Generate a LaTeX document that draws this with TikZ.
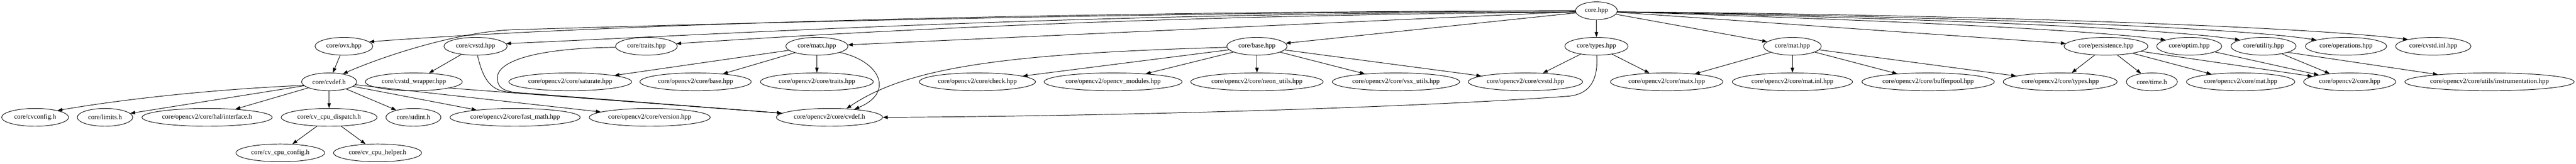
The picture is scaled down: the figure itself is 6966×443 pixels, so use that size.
\documentclass[tikz,border=0pt]{standalone}
\usepackage{fontspec}
\setmainfont{Liberation Serif}
\usetikzlibrary{shapes.geometric,arrows.meta}
\begin{document}
\begin{tikzpicture}[x=0.75pt,y=-0.75pt,
  nd/.style={ellipse,draw,line width=1pt,inner xsep=-4pt,inner ysep=0pt,minimum height=36pt,font=\fontsize{13.6pt}{16pt}\selectfont},
  wd/.style={minimum width=#1*0.75pt},
  conn/.style={draw,line width=1pt,-{Triangle[length=10pt,width=7pt]}}]
\useasboundingbox (0,0) rectangle (6966,443);
% row 1
\node[nd,wd=113] (core) at (4317,29) {core.hpp};
% row 2
\node[nd,wd=156] (ovx) at (930,125) {core/ovx.hpp};
\node[nd,wd=171] (cvstd) at (1286,125) {core/cvstd.hpp};
\node[nd,wd=167] (traits) at (1748,125) {core/traits.hpp};
\node[nd,wd=168] (matx) at (2209,125) {core/matx.hpp};
\node[nd,wd=163] (base) at (3399,125) {core/base.hpp};
\node[nd,wd=171] (types) at (4317,125) {core/types.hpp};
\node[nd,wd=156] (mat) at (4847,125) {core/mat.hpp};
\node[nd,wd=227] (pers) at (5695,125) {core/persistence.hpp};
\node[nd,wd=176] (optim) at (5920,125) {core/optim.hpp};
\node[nd,wd=176] (util) at (6121,125) {core/utility.hpp};
\node[nd,wd=220] (oper) at (6344,125) {core/operations.hpp};
\node[nd,wd=204] (cvinl) at (6580,125) {core/cvstd.inl.hpp};
% row 3
\node[nd,wd=149] (cvdef) at (890,221) {core/cvdef.h};
\node[nd,wd=262] (wrap) at (1119,221) {core/cvstd\_wrapper.hpp};
\node[nd,wd=332] (sat) at (1542,221) {core/opencv2/core/saturate.hpp};
\node[nd,wd=301] (obase) at (1881,221) {core/opencv2/core/base.hpp};
\node[nd,wd=305] (otraits) at (2209,221) {core/opencv2/core/traits.hpp};
\node[nd,wd=314] (check) at (2643,221) {core/opencv2/core/check.hpp};
\node[nd,wd=373] (omod) at (3010,221) {core/opencv2/opencv\_modules.hpp};
\node[nd,wd=358] (neon) at (3399,221) {core/opencv2/core/neon\_utils.hpp};
\node[nd,wd=344] (vsx) at (3775,221) {core/opencv2/core/vsx\_utils.hpp};
\node[nd,wd=309] (ocvstd) at (4125,221) {core/opencv2/core/cvstd.hpp};
\node[nd,wd=304] (omatx) at (4507,221) {core/opencv2/core/matx.hpp};
\node[nd,wd=325] (minl) at (4847,221) {core/opencv2/core/mat.inl.hpp};
\node[nd,wd=358] (bpool) at (5214,221) {core/opencv2/core/bufferpool.hpp};
\node[nd,wd=308] (otypes) at (5571,221) {core/opencv2/core/types.hpp};
\node[nd,wd=138] (time) at (5819,221) {core/time.h};
\node[nd,wd=293] (omat) at (6059,221) {core/opencv2/core/mat.hpp};
\node[nd,wd=249] (ocore) at (6354,221) {core/opencv2/core.hpp};
\node[nd,wd=458] (instr) at (6732,221) {core/opencv2/core/utils/instrumentation.hpp};
% row 4
\node[nd,wd=181] (cvconfig) at (95,317) {core/cvconfig.h};
\node[nd,wd=150] (limits) at (284,317) {core/limits.h};
\node[nd,wd=352] (iface) at (560,317) {core/opencv2/core/hal/interface.h};
\node[nd,wd=259] (disp) at (890,317) {core/cv\_cpu\_dispatch.h};
\node[nd,wd=149] (stdint) at (1118,317) {core/stdint.h};
\node[nd,wd=352] (fmath) at (1393,317) {core/opencv2/core/fast\_math.hpp};
\node[nd,wd=327] (version) at (1757,317) {core/opencv2/core/version.hpp};
\node[nd,wd=287] (ocvdef) at (2243,317) {core/opencv2/core/cvdef.h};
% row 5
\node[nd,wd=240] (cpucfg) at (758,413) {core/cv\_cpu\_config.h};
\node[nd,wd=238] (cpuhelp) at (1021,413) {core/cv\_cpu\_helper.h};

% edges from core.hpp
\draw[conn] (core.west) .. controls (2600,32) and (1500,75) .. (ovx.10);
\draw[conn] (core.west) .. controls (3000,35) and (1900,65) .. (1400,80) .. controls (1250,82) and (1040,150) .. (cvdef.30);
\draw[conn] (core.183) .. controls (2900,35) and (2000,90) .. (cvstd.5);
\draw[conn] (core.184) .. controls (3200,40) and (2400,80) .. (traits.5);
\draw[conn] (core) -- (matx);
\draw[conn] (core) -- (base);
\draw[conn] (core) -- (types);
\draw[conn] (core) -- (mat);
\draw[conn] (core) -- (pers);
\draw[conn] (core.-3) .. controls (4900,48) and (5600,75) .. (optim.165);
\draw[conn] (core.-3) .. controls (5000,45) and (5800,70) .. (util.165);
\draw[conn] (core.-3) .. controls (5100,42) and (6000,68) .. (oper.168);
\draw[conn] (core.-3) .. controls (5200,38) and (6200,68) .. (cvinl.165);
% row 2 -> lower
\draw[conn] (ovx) -- (cvdef);
\draw[conn] (cvstd) -- (wrap);
\draw[conn] (cvstd.-78) .. controls (1305,210) and (1325,243) .. (1370,248) -- (ocvdef.175);
\draw[conn] (traits.182) .. controls (1450,130) and (1345,165) .. (1345,210) .. controls (1345,240) and (1365,249) .. (1420,252) -- (ocvdef.175);
\draw[conn] (wrap.-10) -- (ocvdef.175);
\draw[conn] (matx) -- (sat);
\draw[conn] (matx) -- (obase);
\draw[conn] (matx) -- (otraits);
\draw[conn] (matx.-15) .. controls (2380,165) and (2420,250) .. (ocvdef.18);
\draw[conn] (base.182) .. controls (2700,145) and (2450,185) .. (ocvdef.27);
\draw[conn] (base) -- (check);
\draw[conn] (base) -- (omod);
\draw[conn] (base) -- (neon);
\draw[conn] (base) -- (vsx);
\draw[conn] (base) -- (ocvstd);
\draw[conn] (types) -- (ocvstd);
\draw[conn] (types) -- (omatx);
\draw[conn] (types.-88) .. controls (4322,215) and (4300,255) .. (4240,260) .. controls (3800,292) and (3000,314) .. (ocvdef.east);
\draw[conn] (mat) -- (omatx);
\draw[conn] (mat) -- (minl);
\draw[conn] (mat) -- (bpool);
\draw[conn] (mat) -- (otypes);
\draw[conn] (pers) -- (otypes);
\draw[conn] (pers) -- (time);
\draw[conn] (pers) -- (omat);
\draw[conn] (pers) -- (ocore);
\draw[conn] (optim) -- (ocore);
\draw[conn] (util) -- (ocore);
\draw[conn] (util.-14) -- (instr.172);
% row 3 -> lower
\draw[conn] (cvdef.188) .. controls (600,240) and (350,265) .. (cvconfig.17);
\draw[conn] (cvdef) -- (limits);
\draw[conn] (cvdef) -- (iface);
\draw[conn] (cvdef) -- (disp);
\draw[conn] (cvdef) -- (stdint);
\draw[conn] (cvdef) -- (fmath);
\draw[conn] (cvdef) -- (version);
\draw[conn] (disp) -- (cpucfg);
\draw[conn] (disp) -- (cpuhelp);
\end{tikzpicture}
\end{document}
